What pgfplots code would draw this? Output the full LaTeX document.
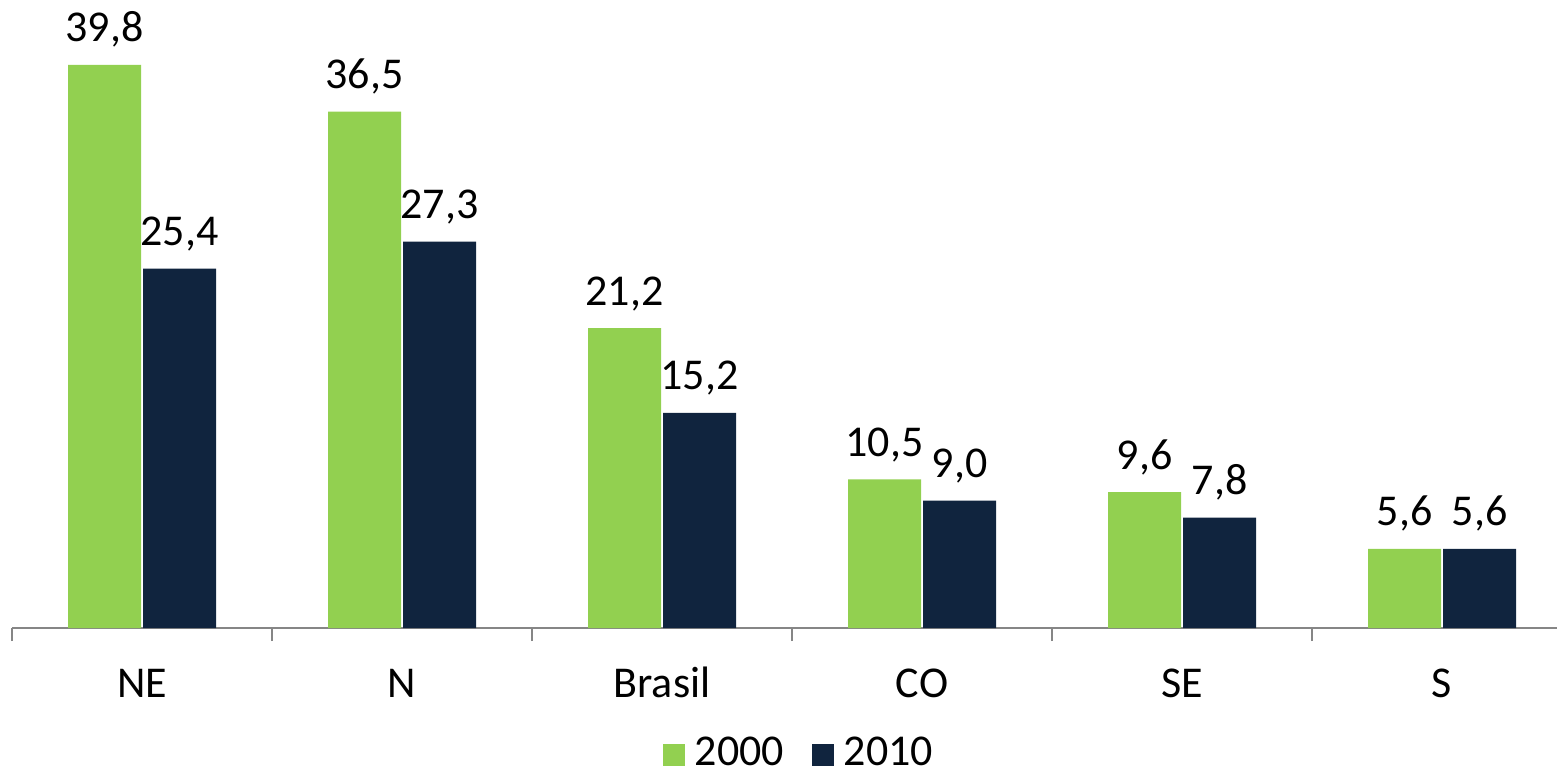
\documentclass[border=0pt]{standalone}
\usepackage{fontspec}
\setmainfont{Carlito}
\usepackage{pgfplots}
\pgfplotsset{compat=1.18}
\definecolor{cgreen}{HTML}{92D050}
\definecolor{cnavy}{HTML}{10243E}
\definecolor{caxis}{HTML}{868686}
\begin{document}
\fontsize{22}{26}\selectfont
\begin{tikzpicture}
\begin{axis}[
  scale only axis, width=772.5pt, height=283pt,
  xmin=-0.5, xmax=5.4423, ymin=0, ymax=40,
  ybar=1pt, bar width=36.5pt,
  axis x line*=bottom, axis y line=none,
  x axis line style={caxis, line width=1pt, -},
  xtick={0,1,2,3,4,5}, xticklabels={NE,N,Brasil,CO,SE,S},
  major tick length=0pt,
  xticklabel style={anchor=base, yshift=-34.5pt, font=\fontsize{22}{26}\selectfont},
  extra x ticks={-0.5,0.5,1.5,2.5,3.5,4.5},
  extra x tick labels={},
  extra x tick style={major tick length=6.5pt, tick align=outside, tick style={caxis, line width=1pt}},
  nodes near coords,
  every node near coord/.append style={anchor=base, yshift=11.5pt, font=\fontsize{22}{26}\selectfont, text=black},
  /pgf/number format/.cd, fixed, fixed zerofill, precision=1, use comma, assume math mode=true, /pgfplots/.cd,
  legend image code/.code={\fill[#1] (0pt,-5.5pt) rectangle (11pt,5.5pt); \path (14pt,0pt);},
  legend style={draw=none, fill=none, legend columns=2, anchor=center, at={(rel axis cs:0.51,0)}, yshift=-63.5pt,
    font=\fontsize{22}{26}\selectfont, inner sep=0pt, /tikz/every even column/.append style={column sep=12pt}},
]
\addplot[fill=cgreen, draw=none] coordinates {(0,39.8) (1,36.5) (2,21.2) (3,10.5) (4,9.6) (5,5.6)};
\addplot[fill=cnavy, draw=none] coordinates {(0,25.4) (1,27.3) (2,15.2) (3,9.0) (4,7.8) (5,5.6)};
\legend{2000,2010}
\end{axis}
\pgfresetboundingbox
\path[use as bounding box] (-6pt,-72pt) rectangle (772.5pt,314pt);
\end{tikzpicture}
\end{document}
